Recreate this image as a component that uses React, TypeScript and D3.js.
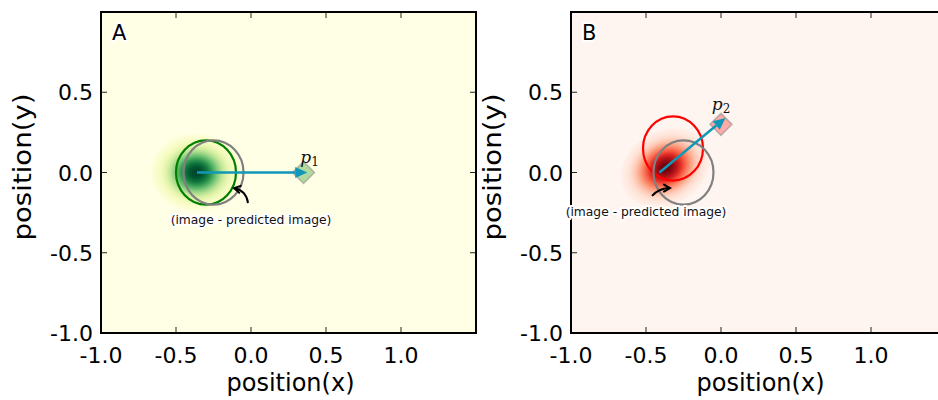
import React from 'react';
import * as d3 from 'd3';

// ---- axis ticks ----
const xTicks = [-1, -0.5, 0, 0.5, 1.0];
const xTickLabels = ['-1.0', '-0.5', '0.0', '0.5', '1.0'];
const yTicks = [-1, -0.5, 0, 0.5];
const yTickLabels = ['-1.0', '-0.5', '0.0', '0.5'];
const innerXTicks = [-0.5, 0, 0.5, 1.0];
const innerYTicks = [-0.5, 0, 0.5];
const xDomain = [-1, 1.5];
const yDomain = [-1, 1];

// ---- panel A (data units) ----
const blobA = [-0.365, 0.0, 0.3, 0.24, 0]; // cx, cy, rx, ry, rotation(deg)
const trueCircleA = [-0.3, 0.0, 0.2];
const predCircleA = [-0.25, 0.0, 0.2];
const shiftArrowA = [[-0.36, 0.0], [0.375, 0.0]];
const markerA = [0.35, 0.0];
const markerLabelA = [0.39, 0.06];
const noteTextA = [0.0, -0.32];
const noteArrowA = [[-0.02, -0.19], [-0.113, -0.097]];
const noteRadA = 0.35;

// ---- panel B (data units) ----
const blobB = [-0.37, 0.03, 0.31, 0.23, -30];
const trueCircleB = [-0.32, 0.15, 0.2];
const predCircleB = [-0.25, 0.0, 0.2];
const shiftArrowB = [[-0.41, 0.0], [0.03, 0.34]];
const markerB = [0.0, 0.3];
const markerLabelB = [0.0, 0.39];
const noteTextB = [-0.5, -0.27];
const noteArrowB = [[-0.46, -0.146], [-0.34, -0.097]];
const noteRadB = -0.22;

const FONT = "'DejaVu Sans', sans-serif";
const TEAL = '#1197b8';

type PanelProps = {
  id: string;
  left: number;
  letter: string;
  bg: string;
  interp: (t: number) => string;
  blob: number[];
  trueCircle: number[];
  trueColor: string;
  predCircle: number[];
  shiftArrow: number[][];
  marker: number[];
  markerColor: string;
  markerLabel: number[];
  sub: string;
  noteText: number[];
  noteArrow: number[][];
  noteRad: number;
};

function Panel(p: PanelProps) {
  const top = 12, bottom = 333, width = 375;
  const x = d3.scaleLinear().domain(xDomain).range([p.left, p.left + width]);
  const y = d3.scaleLinear().domain(yDomain).range([bottom, top]);
  const stops = d3.range(0, 13).map((i) => {
    const t = i / 12;
    const v = Math.exp(-Math.pow(t * 2.6, 2) / 2);
    return { off: t, color: p.interp(v) };
  });
  const [bx, by, brx, bry, brot] = p.blob;
  const bcx = x(bx), bcy = y(by);
  const rxPx = x(brx) - x(0), ryPx = y(0) - y(bry);

  // teal arrow
  const [s, e] = p.shiftArrow;
  const sx = x(s[0]), sy = y(s[1]), ex = x(e[0]), ey = y(e[1]);
  const ang = Math.atan2(ey - sy, ex - sx);
  const hl = 12, hw = 5.5;
  const baseX = ex - hl * Math.cos(ang), baseY = ey - hl * Math.sin(ang);
  const head = [
    [ex, ey],
    [baseX + hw * Math.sin(ang), baseY - hw * Math.cos(ang)],
    [baseX - hw * Math.sin(ang), baseY + hw * Math.cos(ang)],
  ];

  // note arrow (curved)
  const [nt, nh] = p.noteArrow;
  const tx = x(nt[0]), ty = y(nt[1]), hx = x(nh[0]), hy = y(nh[1]);
  const dx = hx - tx, dy = hy - ty;
  const cx = (tx + hx) / 2 - p.noteRad * dy;
  const cy = (ty + hy) / 2 + p.noteRad * dx;
  const nang = Math.atan2(hy - cy, hx - cx);
  const cl = 7, ca = (30 * Math.PI) / 180;
  const chev = `M${hx - cl * Math.cos(nang - ca)},${hy - cl * Math.sin(nang - ca)} L${hx},${hy} L${hx - cl * Math.cos(nang + ca)},${hy - cl * Math.sin(nang + ca)}`;

  const mx = x(p.marker[0]), my = y(p.marker[1]);
  const md = 11;
  const clipId = `clip-${p.id}`;
  const gradId = `grad-${p.id}`;

  return (
    <g>
      <defs>
        <clipPath id={clipId}>
          <rect x={p.left} y={top} width={width} height={bottom - top} />
        </clipPath>
        <radialGradient id={gradId}>
          {stops.map((st, i) => (
            <stop key={i} offset={st.off} stopColor={st.color} />
          ))}
        </radialGradient>
      </defs>
      <rect x={p.left} y={top} width={width} height={bottom - top} fill={p.bg} />
      <g clipPath={`url(#${clipId})`}>
        <ellipse
          cx={bcx}
          cy={bcy}
          rx={rxPx}
          ry={ryPx}
          fill={`url(#${gradId})`}
          transform={`rotate(${brot},${bcx},${bcy})`}
        />
        <ellipse
          cx={x(p.trueCircle[0])}
          cy={y(p.trueCircle[1])}
          rx={x(p.trueCircle[2]) - x(0)}
          ry={y(0) - y(p.trueCircle[2])}
          fill="none"
          stroke={p.trueColor}
          strokeWidth={2.2}
        />
        <ellipse
          cx={x(p.predCircle[0])}
          cy={y(p.predCircle[1])}
          rx={x(p.predCircle[2]) - x(0)}
          ry={y(0) - y(p.predCircle[2])}
          fill="none"
          stroke="gray"
          strokeWidth={2.2}
        />
        <polygon
          points={`${mx},${my - md} ${mx + md},${my} ${mx},${my + md} ${mx - md},${my}`}
          fill={p.markerColor}
          fillOpacity={0.3}
          stroke="gray"
          strokeOpacity={0.5}
          strokeWidth={1.5}
        />
        <line x1={sx} y1={sy} x2={baseX} y2={baseY} stroke={TEAL} strokeWidth={2.5} />
        <polygon points={head.map((q) => q.join(',')).join(' ')} fill={TEAL} />
        <text
          x={x(p.markerLabel[0])}
          y={y(p.markerLabel[1])}
          textAnchor="middle"
          fontFamily="'DejaVu Serif', 'Liberation Serif', serif"
          fontStyle="italic"
          fontSize={17}
          fill="#111"
        >
          p
          <tspan fontStyle="normal" fontSize={12} dy={3}>
            {p.sub}
          </tspan>
        </text>
        <path d={`M${tx},${ty} Q${cx},${cy} ${hx},${hy}`} fill="none" stroke="black" strokeWidth={2} />
        <path d={chev} fill="none" stroke="black" strokeWidth={2} strokeLinecap="round" />
        <text
          x={p.left + 11}
          y={top + 27.5}
          fontFamily={FONT}
          fontSize={21}
          fill="black"
          stroke="white"
          strokeWidth={4}
          strokeLinejoin="round"
          paintOrder="stroke"
        >
          {p.letter}
        </text>
      </g>
      {/* inward ticks */}
      {innerXTicks.map((v) => (
        <g key={`xt${v}`}>
          <line x1={x(v)} x2={x(v)} y1={bottom} y2={bottom - 6} stroke="#222" strokeWidth={1} />
          <line x1={x(v)} x2={x(v)} y1={top} y2={top + 6} stroke="#222" strokeWidth={1} />
        </g>
      ))}
      {innerYTicks.map((v) => (
        <g key={`yt${v}`}>
          <line x1={p.left} x2={p.left + 6} y1={y(v)} y2={y(v)} stroke="#222" strokeWidth={1} />
          <line x1={p.left + width} x2={p.left + width - 6} y1={y(v)} y2={y(v)} stroke="#222" strokeWidth={1} />
        </g>
      ))}
      <rect x={p.left} y={top} width={width} height={bottom - top} fill="none" stroke="black" strokeWidth={2} />
      <text
        x={x(p.noteText[0])}
        y={y(p.noteText[1])}
        textAnchor="middle"
        fontFamily={FONT}
        fontSize={12.3}
        fill="#111"
        stroke="white"
        strokeWidth={4}
        strokeLinejoin="round"
        paintOrder="stroke"
      >
        (image - predicted image)
      </text>
      {/* tick labels */}
      {xTicks.map((v, i) => (
        <text key={`xl${v}`} x={x(v)} y={363} textAnchor="middle" fontFamily={FONT} fontSize={22} fill="black">
          {xTickLabels[i]}
        </text>
      ))}
      {yTicks.map((v, i) => (
        <text key={`yl${v}`} x={p.left - 8} y={y(v) + 8} textAnchor="end" fontFamily={FONT} fontSize={22} fill="black">
          {yTickLabels[i]}
        </text>
      ))}
      <text
        x={p.left + width / 2 + 2}
        y={391}
        textAnchor="middle"
        fontFamily={FONT}
        fontSize={24}
        fill="black"
      >
        position(x)
      </text>
      <text
        transform={`translate(${p.left - 70},167) rotate(-90)`}
        textAnchor="middle"
        fontFamily={FONT}
        fontSize={25}
        textLength={147}
        lengthAdjust="spacingAndGlyphs"
        fill="black"
      >
        position(y)
      </text>
    </g>
  );
}

export default function App() {
  return (
    <svg
      width={938}
      height={400}
      style={{ position: 'absolute', left: 0, top: 0, background: 'white' }}
    >
      <rect x={0} y={0} width={938} height={400} fill="white" />
      <Panel
        id="a"
        left={101}
        letter="A"
        bg={d3.interpolateYlGn(0)}
        interp={d3.interpolateYlGn}
        blob={blobA}
        trueCircle={trueCircleA}
        trueColor="green"
        predCircle={predCircleA}
        shiftArrow={shiftArrowA}
        marker={markerA}
        markerColor="green"
        markerLabel={markerLabelA}
        sub="1"
        noteText={noteTextA}
        noteArrow={noteArrowA}
        noteRad={noteRadA}
      />
      <Panel
        id="b"
        left={571}
        letter="B"
        bg={d3.interpolateReds(0)}
        interp={d3.interpolateReds}
        blob={blobB}
        trueCircle={trueCircleB}
        trueColor="red"
        predCircle={predCircleB}
        shiftArrow={shiftArrowB}
        marker={markerB}
        markerColor="red"
        markerLabel={markerLabelB}
        sub="2"
        noteText={noteTextB}
        noteArrow={noteArrowB}
        noteRad={noteRadB}
      />
    </svg>
  );
}
